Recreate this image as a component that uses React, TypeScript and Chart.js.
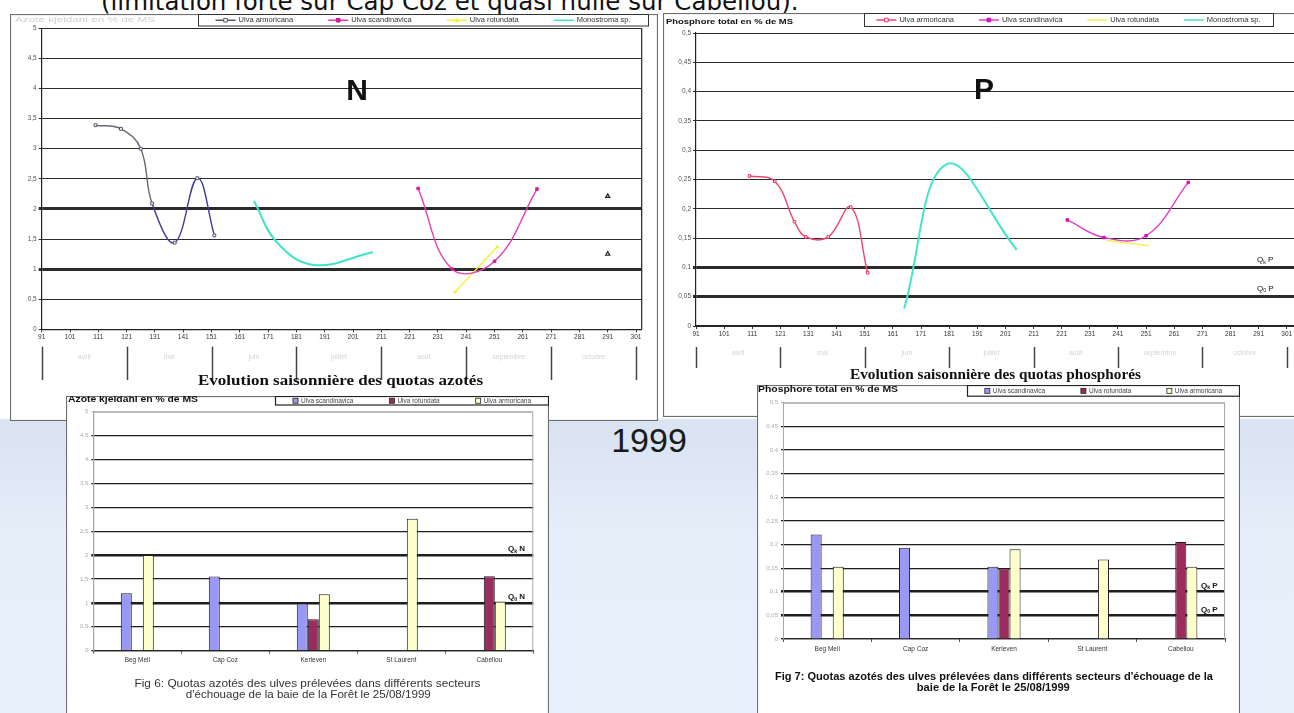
import React, { useEffect, useRef } from 'react';
import { Chart, registerables } from 'chart.js';
Chart.register(...registerables);

const SANS = '"Liberation Sans", Arial, sans-serif';
const SERIF = '"Liberation Serif", "Times New Roman", serif';

// ---------------- data ----------------
const dayTicks = [91, 101, 111, 121, 131, 141, 151, 161, 171, 181, 191, 201, 211, 221, 231, 241, 251, 261, 271, 281, 291, 301];
const monthEdges = [91, 121, 151, 181, 211, 241, 271, 301];
const monthNames = ['avril', 'mai', 'juin', 'juillet', 'août', 'septembre', 'octobre'];
const lineSeriesNames = ['Ulva armoricana', 'Ulva scandinavica', 'Ulva rotundata', 'Monostroma sp.'];

// N (azote) seasonal series
const nArmoDays = [110, 119, 126, 130, 138, 146, 152];
const nArmoVals = [3.39, 3.33, 3.0, 2.09, 1.44, 2.51, 1.56];
const nScandDays = [224, 236, 251, 266];
const nScandVals = [2.34, 1.0, 1.13, 2.33];
const nRotDays = [237, 252];
const nRotVals = [0.62, 1.37];
const nMonoDays = [166, 174, 187, 208];
const nMonoVals = [2.13, 1.45, 1.07, 1.28];
const nExtraDays = [291, 291];
const nExtraVals = [2.21, 1.25];
const nQuotas = [2, 1];

// P (phosphore) seasonal series
const pArmoDays = [110, 119, 126, 130, 138, 146, 152];
const pArmoVals = [0.256, 0.247, 0.178, 0.152, 0.152, 0.203, 0.091];
const pScandDays = [223, 236, 251, 266];
const pScandVals = [0.181, 0.151, 0.154, 0.245];
const pRotDays = [237, 252];
const pRotVals = [0.146, 0.137];
const pMonoDays = [165, 180, 205];
const pMonoVals = [0.03, 0.276, 0.13];
const pQuotas = [0.1, 0.05];

// bar charts (25/08/1999)
const sites = ['Beg Meil', 'Cap Coz', 'Kerleven', 'St Laurent', 'Cabellou'];
const barSeriesNames = ['Ulva scandinavica', 'Ulva rotundata', 'Ulva armoricana'];
const barNScand = [1.2, 1.55, 0.99, null, null];
const barNRotund = [null, null, 0.66, null, 1.56];
const barNArmo = [2.0, null, 1.18, 2.76, 1.03];
const barPScand = [0.221, 0.193, 0.153, null, null];
const barPRotund = [null, null, 0.149, null, 0.205];
const barPArmo = [0.153, null, 0.19, 0.168, 0.153];

// ---------------- helpers ----------------
const pts = (xs: number[], ys: number[]) => xs.map((x, i) => ({ x, y: ys[i] }));
const fmt = (v: number) => String(Math.round(v * 100) / 100).replace('.', ',');
const near = (a: number, b: number) => Math.abs(a - b) < 1e-6;

function fitText(ctx: CanvasRenderingContext2D, text: string, cx: number, cy: number, w: number, font: string, color: string) {
  ctx.save();
  ctx.font = font;
  ctx.fillStyle = color;
  ctx.textBaseline = 'middle';
  ctx.textAlign = 'left';
  const m = ctx.measureText(text).width;
  ctx.translate(cx - w / 2, cy);
  ctx.scale(w / m, 1);
  ctx.fillText(text, 0, 0);
  ctx.restore();
}

function drawQ(ctx: CanvasRenderingContext2D, x: number, y: number, sub: string, el: string, size: number, bold: boolean) {
  ctx.save();
  ctx.fillStyle = '#111';
  ctx.textBaseline = 'middle';
  ctx.textAlign = 'left';
  const b = bold ? 'bold ' : '';
  ctx.font = `${b}${size}px ${SANS}`;
  ctx.fillText('Q', x, y);
  const w1 = ctx.measureText('Q').width;
  ctx.font = `${b}${size * 0.65}px ${SANS}`;
  ctx.fillText(sub, x + w1, y + size * 0.28);
  const w2 = ctx.measureText(sub).width;
  ctx.font = `${b}${size}px ${SANS}`;
  ctx.fillText(' ' + el, x + w1 + w2, y);
  ctx.restore();
}

function drawMarker(ctx: CanvasRenderingContext2D, style: string, x: number, y: number, r: number, stroke: string, fill: string) {
  ctx.save();
  ctx.strokeStyle = stroke;
  ctx.fillStyle = fill;
  ctx.lineWidth = 1;
  ctx.beginPath();
  if (style === 'triangle') {
    ctx.moveTo(x, y - r);
    ctx.lineTo(x + r, y + r * 0.8);
    ctx.lineTo(x - r, y + r * 0.8);
    ctx.closePath();
  } else {
    ctx.rect(x - r, y - r, r * 2, r * 2);
  }
  ctx.fill();
  ctx.stroke();
  ctx.restore();
}

function drawLineLegend(chart: any, box: any, fontSize: number) {
  const ctx: CanvasRenderingContext2D = chart.ctx;
  const items = chart.data.datasets
    .filter((d: any) => !d.noLegend)
    .map((d: any) => ({
      label: d.label,
      color: d.legendColor || d.borderColor,
      marker: d.pointRadius > 0 ? d.pointStyle : null,
      mStroke: d.pointBorderColor || d.borderColor,
      mFill: d.pointBackgroundColor || d.borderColor,
    }));
  ctx.save();
  ctx.fillStyle = '#fff';
  ctx.fillRect(box.x, box.y, box.w, box.h);
  ctx.strokeStyle = '#333';
  ctx.lineWidth = 1;
  ctx.strokeRect(box.x + 0.5, box.y + 0.5, box.w, box.h);
  ctx.font = `${fontSize}px ${SANS}`;
  const sw = 20, g = 3;
  const widths = items.map((it: any) => sw + g + ctx.measureText(it.label).width);
  const total = widths.reduce((a: number, b: number) => a + b, 0);
  const gap = (box.w - total) / items.length;
  let x = box.x + gap / 2;
  const cy = box.y + box.h / 2 + 0.5;
  items.forEach((it: any, i: number) => {
    ctx.strokeStyle = it.color;
    ctx.lineWidth = 1.5;
    ctx.beginPath();
    ctx.moveTo(x, cy);
    ctx.lineTo(x + sw, cy);
    ctx.stroke();
    if (it.marker) drawMarker(ctx, it.marker, x + sw / 2, cy, 1.8, it.mStroke, it.mFill);
    ctx.fillStyle = '#333';
    ctx.textBaseline = 'middle';
    ctx.textAlign = 'left';
    ctx.font = `${fontSize}px ${SANS}`;
    ctx.fillText(it.label, x + sw + g, cy);
    x += widths[i] + gap;
  });
  ctx.restore();
}

function drawBarLegend(chart: any, box: any, fontSize: number) {
  const ctx: CanvasRenderingContext2D = chart.ctx;
  const items = chart.data.datasets.map((d: any) => ({ label: d.label, color: d.backgroundColor }));
  ctx.save();
  ctx.fillStyle = '#fff';
  ctx.fillRect(box.x, box.y, box.w, box.h);
  ctx.strokeStyle = '#222';
  ctx.lineWidth = 1.2;
  ctx.strokeRect(box.x + 0.5, box.y + 0.5, box.w - 1, box.h);
  ctx.font = `${fontSize}px ${SANS}`;
  const sq = 5, g = 3;
  const widths = items.map((it: any) => sq + g + ctx.measureText(it.label).width);
  const total = widths.reduce((a: number, b: number) => a + b, 0);
  const gap = (box.w - total) / items.length;
  let x = box.x + gap / 2;
  const cy = box.y + box.h / 2 + 0.5;
  items.forEach((it: any, i: number) => {
    ctx.fillStyle = it.color;
    ctx.fillRect(x, cy - sq / 2, sq, sq);
    ctx.strokeStyle = '#222';
    ctx.lineWidth = 0.8;
    ctx.strokeRect(x, cy - sq / 2, sq, sq);
    ctx.fillStyle = '#444';
    ctx.textBaseline = 'middle';
    ctx.textAlign = 'left';
    ctx.fillText(it.label, x + sq + g, cy);
    x += widths[i] + gap;
  });
  ctx.restore();
}

function panelPlugin(after: (chart: any) => void, before?: (chart: any) => void) {
  return {
    id: 'panel',
    beforeDraw(chart: any) {
      const ctx = chart.ctx;
      ctx.save();
      ctx.fillStyle = '#fff';
      ctx.fillRect(0, 0, chart.width, chart.height);
      ctx.strokeStyle = '#6f6f6f';
      ctx.lineWidth = 1.2;
      ctx.strokeRect(0.5, 0.5, chart.width - 1, chart.height - 1);
      ctx.restore();
    },
    beforeDatasetsDraw(chart: any) {
      if (before) before(chart);
    },
    afterDraw(chart: any) {
      after(chart);
    },
  };
}

function drawMonthBand(chart: any, y0: number, y1: number, labelY: number) {
  const ctx: CanvasRenderingContext2D = chart.ctx;
  const x = chart.scales.x;
  ctx.save();
  ctx.strokeStyle = '#444';
  ctx.lineWidth = 1.5;
  monthEdges.forEach((d) => {
    const px = Math.round(x.getPixelForValue(d)) + 0.5;
    ctx.beginPath();
    ctx.moveTo(px, y0);
    ctx.lineTo(px, y1);
    ctx.stroke();
  });
  ctx.fillStyle = '#d4d4d4';
  ctx.font = `7px ${SANS}`;
  ctx.textAlign = 'center';
  ctx.textBaseline = 'middle';
  monthNames.forEach((m, i) => {
    const px = x.getPixelForValue((monthEdges[i] + monthEdges[i + 1]) / 2);
    ctx.fillText(m, px, labelY);
  });
  ctx.restore();
}

// ---------------- chart configs ----------------
function lineConfig(o: any) {
  const { W, H, area, xMax, yMax, yStep, quotas, datasets, after } = o;
  return {
    type: 'line',
    data: { datasets },
    options: {
      responsive: false,
      maintainAspectRatio: false,
      animation: false,
      layout: { padding: { left: 0, top: area.t, right: W - area.r, bottom: 0 } },
      plugins: { legend: { display: false }, tooltip: { enabled: false }, title: { display: false } },
      elements: { line: { tension: 0.4, borderWidth: 1.4 }, point: { radius: 0 } },
      scales: {
        x: {
          type: 'linear',
          min: 91,
          max: xMax,
          afterBuildTicks: (s: any) => {
            s.ticks = dayTicks.map((v) => ({ value: v }));
          },
          afterFit: (s: any) => {
            s.height = H - area.b;
          },
          ticks: {
            autoSkip: false,
            maxRotation: 0,
            padding: 1,
            font: { size: 6.5, family: SANS },
            color: '#333',
            callback: (v: any) => String(v),
          },
          grid: { drawOnChartArea: false, drawTicks: true, tickLength: 3, color: '#333' },
          border: { display: true, color: '#222', width: 1.2 },
        },
        y: {
          min: 0,
          max: yMax,
          afterFit: (s: any) => {
            s.width = area.l;
          },
          ticks: { stepSize: yStep, padding: 2, font: { size: 6.5, family: SANS }, color: '#555', callback: (v: any) => fmt(v) },
          grid: {
            color: '#2b2b2b',
            tickLength: 3,
            lineWidth: (c: any) => (c.tick && quotas.some((q: number) => near(c.tick.value, q)) ? 3 : 1),
          },
          border: { display: true, color: '#222', width: 1.2 },
        },
      },
    },
    plugins: [panelPlugin(after)],
  };
}

function barConfig(o: any) {
  const { W, H, area, yMax, yStep, quotas, series, after } = o;
  const colors = ['#9999f5', '#9a2d5e', '#ffffcc'];
  return {
    type: 'bar',
    data: {
      labels: sites,
      datasets: series.map((vals: any, i: number) => ({
        label: barSeriesNames[i],
        data: vals,
        backgroundColor: colors[i],
        borderColor: '#1e1e1e',
        borderWidth: 1,
        categoryPercentage: 0.375,
        barPercentage: 1,
      })),
    },
    options: {
      responsive: false,
      maintainAspectRatio: false,
      animation: false,
      layout: { padding: { left: 0, top: area.t, right: W - area.r, bottom: 0 } },
      plugins: { legend: { display: false }, tooltip: { enabled: false }, title: { display: false } },
      scales: {
        x: {
          afterFit: (s: any) => {
            s.height = H - area.b;
          },
          ticks: { padding: 3, font: { size: 6.5, family: SANS }, color: '#333' },
          grid: { offset: true, drawOnChartArea: false, drawTicks: true, tickLength: 3, color: '#555' },
          border: { display: true, color: '#222', width: 1.2 },
        },
        y: {
          min: 0,
          max: yMax,
          afterFit: (s: any) => {
            s.width = area.l;
          },
          ticks: { stepSize: yStep, padding: 3, font: { size: 6, family: SANS }, color: '#aaa', callback: (v: any) => fmt(v) },
          grid: {
            tickLength: 2,
            color: (c: any) => (c.tick && c.tick.value >= yMax - 1e-9 ? '#c0c0c0' : '#1e1e1e'),
            lineWidth: (c: any) => (c.tick && quotas.some((q: number) => near(c.tick.value, q)) ? 2.6 : 1.2),
          },
          border: { display: true, color: '#999', width: 1 },
        },
      },
    },
    plugins: [
      panelPlugin(after, (chart: any) => {
        const { ctx, chartArea: a } = chart;
        ctx.save();
        ctx.strokeStyle = '#a8a8a8';
        ctx.lineWidth = 1;
        ctx.beginPath();
        ctx.moveTo(a.left + 0.5, a.bottom);
        ctx.lineTo(a.left + 0.5, a.top + 0.5);
        ctx.lineTo(a.right - 0.5, a.top + 0.5);
        ctx.lineTo(a.right - 0.5, a.bottom);
        ctx.stroke();
        ctx.restore();
      }),
    ],
  };
}

// ---- N line chart ----
function makeN(W: number, H: number) {
  const datasets = [
    {
      label: lineSeriesNames[0],
      data: pts(nArmoDays, nArmoVals),
      borderColor: '#3d3d99',
      legendColor: '#5a5a70',
      segment: { borderColor: (c: any) => (c.p0DataIndex < 3 ? '#666674' : '#3d3d99') },
      pointStyle: 'rect',
      pointRadius: 2,
      pointBorderColor: '#555566',
      pointBackgroundColor: '#ffffff',
      pointBorderWidth: 1,
    },
    {
      label: lineSeriesNames[1],
      data: pts(nScandDays, nScandVals),
      borderColor: '#e23fb4',
      pointStyle: 'rect',
      pointRadius: 1.8,
      pointBorderColor: '#d8199c',
      pointBackgroundColor: '#d8199c',
    },
    {
      label: lineSeriesNames[2],
      data: pts(nRotDays, nRotVals),
      borderColor: '#f4f03c',
      pointStyle: 'triangle',
      pointRadius: 1.6,
      pointBackgroundColor: '#f4f03c',
    },
    {
      label: lineSeriesNames[3],
      data: pts(nMonoDays, nMonoVals),
      borderColor: '#3fe3c6',
      borderWidth: 2,
      pointRadius: 0,
    },
    {
      label: 'extra',
      noLegend: true,
      data: pts(nExtraDays, nExtraVals),
      showLine: false,
      borderColor: '#222',
      pointStyle: 'triangle',
      pointRadius: 2.4,
      pointBorderColor: '#222',
      pointBackgroundColor: 'rgba(0,0,0,0)',
      pointBorderWidth: 1.2,
    },
  ];
  return lineConfig({
    W,
    H,
    area: { l: 31.7, t: 14.3, r: 631.7, b: 315.3 },
    xMax: 303,
    yMax: 5,
    yStep: 0.5,
    quotas: nQuotas,
    datasets,
    after: (chart: any) => {
      const { ctx, chartArea: a } = chart;
      ctx.save();
      ctx.strokeStyle = '#222';
      ctx.lineWidth = 1.2;
      ctx.beginPath();
      ctx.moveTo(a.right, a.top);
      ctx.lineTo(a.right, a.bottom);
      ctx.stroke();
      ctx.restore();
      drawMonthBand(chart, 332.7, 366, 342.7);
      fitText(ctx, 'Evolution saisonnière des quotas azotés', 330.5, 367.7, 285, `bold 14px ${SERIF}`, '#111');
      drawLineLegend(chart, { x: 188, y: 0, w: 450, h: 11.5 }, 7.5);
      fitText(ctx, 'Azote kjeldahl en % de MS', 75, 6, 140, `7px ${SANS}`, '#cfcfcf');
      ctx.save();
      ctx.fillStyle = '#111';
      ctx.font = `bold 30px ${SANS}`;
      ctx.textAlign = 'center';
      ctx.textBaseline = 'middle';
      ctx.fillText('N', 347, 78);
      ctx.restore();
    },
  });
}

// ---- P line chart ----
function makeP(W: number, H: number) {
  const datasets = [
    {
      label: lineSeriesNames[0],
      data: pts(pArmoDays, pArmoVals),
      borderColor: '#f0466e',
      pointStyle: 'rect',
      pointRadius: 1.8,
      pointBorderColor: '#e83060',
      pointBackgroundColor: '#ffffff',
      pointBorderWidth: 1,
    },
    {
      label: lineSeriesNames[1],
      data: pts(pScandDays, pScandVals),
      borderColor: '#e03cc8',
      pointStyle: 'rect',
      pointRadius: 1.8,
      pointBorderColor: '#d014b8',
      pointBackgroundColor: '#d014b8',
    },
    {
      label: lineSeriesNames[2],
      data: pts(pRotDays, pRotVals),
      borderColor: '#f2ee50',
      pointRadius: 0,
    },
    {
      label: lineSeriesNames[3],
      data: pts(pMonoDays, pMonoVals),
      borderColor: '#46e4cc',
      borderWidth: 2,
      pointRadius: 0,
    },
  ];
  return lineConfig({
    W,
    H,
    area: { l: 33, t: 20, r: 637.3, b: 313 },
    xMax: 305,
    yMax: 0.5,
    yStep: 0.05,
    quotas: pQuotas,
    datasets,
    after: (chart: any) => {
      const { ctx } = chart;
      drawMonthBand(chart, 334, 355, 340);
      fitText(ctx, 'Evolution saisonnière des quotas phosphorés', 332.5, 362, 291, `bold 14px ${SERIF}`, '#111');
      drawLineLegend(chart, { x: 201, y: 0, w: 409, h: 13 }, 7.5);
      fitText(ctx, 'Phosphore total en % de MS', 66.5, 8.7, 127, `bold 8px ${SANS}`, '#111');
      drawQ(ctx, 594, 247, 'k', 'P', 8, false);
      drawQ(ctx, 594, 275.3, '0', 'P', 8, false);
      ctx.save();
      ctx.fillStyle = '#111';
      ctx.font = `bold 30px ${SANS}`;
      ctx.textAlign = 'center';
      ctx.textBaseline = 'middle';
      ctx.fillText('P', 321, 78);
      ctx.restore();
    },
  });
}

// ---- N bar chart ----
function makeBarN(W: number, H: number) {
  return barConfig({
    W,
    H,
    area: { l: 27.3, t: 15.7, r: 467.3, b: 254.7 },
    yMax: 5,
    yStep: 0.5,
    quotas: nQuotas,
    series: [barNScand, barNRotund, barNArmo],
    after: (chart: any) => {
      const { ctx } = chart;
      drawBarLegend(chart, { x: 209, y: 0, w: 274, h: 8.5 }, 6.5);
      fitText(ctx, 'Azote kjeldahl en % de MS', 67, 3.6, 130, `bold 8.5px ${SANS}`, '#111');
      drawQ(ctx, 442, 153, 'k', 'N', 8, true);
      drawQ(ctx, 442, 201, '0', 'N', 8, true);
      fitText(ctx, 'Fig 6: Quotas azotés des ulves prélevées dans différents secteurs', 241.5, 288.3, 346, `11px ${SANS}`, '#333');
      fitText(ctx, "d'échouage de la baie de la Forêt le 25/08/1999", 242.3, 299.3, 245, `11px ${SANS}`, '#333');
    },
  });
}

// ---- P bar chart ----
function makeBarP(W: number, H: number) {
  return barConfig({
    W,
    H,
    area: { l: 26, t: 17.7, r: 468, b: 254 },
    yMax: 0.5,
    yStep: 0.05,
    quotas: pQuotas,
    series: [barPScand, barPRotund, barPArmo],
    after: (chart: any) => {
      const { ctx } = chart;
      drawBarLegend(chart, { x: 210, y: 0, w: 273, h: 10.7 }, 6.5);
      fitText(ctx, 'Phosphore total en % de MS', 71, 5, 140, `bold 9px ${SANS}`, '#111');
      drawQ(ctx, 444, 200.7, 'k', 'P', 8, true);
      drawQ(ctx, 444, 224.3, '0', 'P', 8, true);
      fitText(ctx, "Fig 7: Quotas azotés des ulves prélevées dans différents secteurs d'échouage de la", 237, 291.7, 438, `bold 11px ${SANS}`, '#111');
      fitText(ctx, 'baie de la Forêt le 25/08/1999', 236.3, 303.3, 153, `bold 11px ${SANS}`, '#111');
    },
  });
}

function ChartBox({ left, top, w, h, z, make }: any) {
  const ref = useRef<HTMLCanvasElement>(null);
  useEffect(() => {
    const chart = new Chart(ref.current as HTMLCanvasElement, make(w, h) as any);
    return () => chart.destroy();
  }, []);
  return (
    <canvas
      ref={ref}
      width={w}
      height={h}
      style={{ position: 'absolute', left, top, width: w, height: h, zIndex: z, display: 'block' }}
    />
  );
}

export default function App() {
  return (
    <div
      style={{
        position: 'absolute',
        left: 0,
        top: 0,
        width: 1294,
        height: 713,
        overflow: 'hidden',
        background:
          'linear-gradient(to bottom, #ffffff 0px, #ffffff 418px, #d9e3f1 420px, #dfe8f5 480px, #e6eef9 540px, #e8f0fb 713px)',
      }}
    >
      <div
        style={{
          position: 'absolute',
          left: 101,
          top: -10.5,
          fontFamily: '"DejaVu Sans", Verdana, sans-serif',
          fontSize: 24.5,
          lineHeight: '24.5px',
          color: '#111',
          whiteSpace: 'nowrap',
          zIndex: 0,
        }}
      >
        (limitation forte sur Cap Coz et quasi nulle sur Cabellou).
      </div>
      <ChartBox left={10} top={14} w={648} h={407} z={1} make={makeN} />
      <ChartBox left={663} top={13} w={640} h={404} z={1} make={makeP} />
      <ChartBox left={66} top={396} w={483} h={330} z={2} make={makeBarN} />
      <ChartBox left={757} top={385} w={483} h={340} z={2} make={makeBarP} />
      <div
        style={{
          position: 'absolute',
          left: 649,
          top: 440,
          transform: 'translate(-50%, -50%)',
          fontFamily: SANS,
          fontSize: 34,
          lineHeight: '34px',
          color: '#1a1a1a',
          zIndex: 3,
        }}
      >
        1999
      </div>
    </div>
  );
}
